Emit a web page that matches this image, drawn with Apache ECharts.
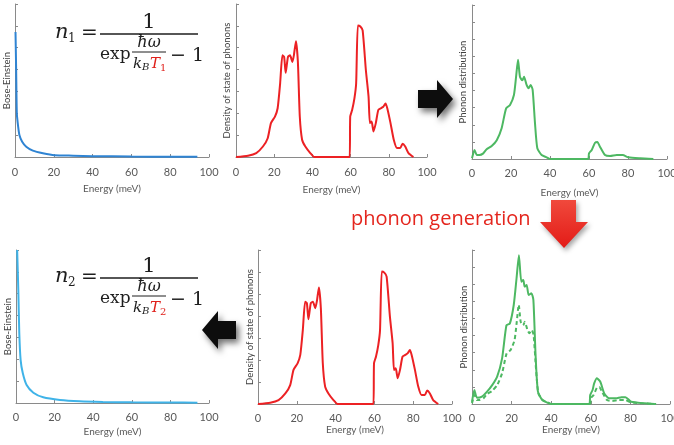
<!DOCTYPE html>
<html>
<head>
<meta charset="utf-8">
<script src="https://cdn.jsdelivr.net/npm/echarts@6/dist/echarts.min.js"></script>
<style>
html, body { margin: 0; padding: 0; background: #fff; }
#chart { width: 674px; height: 445px; }
</style>
</head>
<body>
<div id="chart"></div>
<script>
// energy axis (meV)
var energyMax = 100;
var energyStep = 20;

/* Bose-Einstein, T1 (top) */
var boseE1 = [0.26, 0.6, 0.95, 1.64, 2.3, 3.7, 5.8, 9.2, 14.4, 20.4, 30, 40, 60, 80, 94];
var boseN1 = [5.72, 3.97, 1.99, 1.38, 1.0, 0.7, 0.47, 0.29, 0.17, 0.08, 0.06, 0.04, 0.02, 0.015, 0.01];

/* Bose-Einstein, T2 (bottom) */
var boseE2 = [0.6, 1.2, 1.7, 2.4, 3.5, 5.5, 9, 14.1, 22.8, 33, 45, 60, 80, 94];
var boseN2 = [7.0, 5.16, 3.2, 1.96, 1.37, 0.82, 0.47, 0.26, 0.14, 0.08, 0.05, 0.03, 0.02, 0.015];

/* density of state of phonons */
var dosE = [0, 6.3, 10.6, 14.1, 16.6, 18.3, 20.4, 21.8, 23.1, 24.3, 25.2, 26, 27.2, 28.3, 29.5, 30.3, 31.4, 32.4, 33.4, 34.6, 36.3, 38.9, 41,
  59.5, 59.8, 60.8, 62, 62.9, 63.8, 65.1, 66.3, 68, 69.4, 70.1, 71, 72, 73.2, 74.5, 75.9, 77.1, 78.3, 79.2, 80.9, 82.6, 84.3, 86, 87.2, 88.6, 90.3, 92.9];
var dosVal = [0, 0.06, 0.18, 0.48, 0.86, 1.55, 1.85, 2.23, 3.36, 4.65, 4.58, 3.85, 4.58, 4.65, 4.35, 4.65, 5.3, 4.35, 1.85, 0.79, 0.48, 0.18, 0,
  0, 1.85, 2.15, 2.68, 3.36, 6.02, 5.97, 5.79, 3.97, 2.76, 1.55, 1.62, 1.17, 1.55, 2.15, 2.23, 2.3, 2.45, 2.23, 1.55, 0.79, 0.41, 0.41, 0.61, 0.48, 0.18, 0];

/* phonon distribution at T1 */
var pd1E = [0, 1.3, 2.5, 3.8, 5.8, 7.5, 10.1, 12.7, 15.2, 17.5, 19.5, 21.5, 22.6, 23.6, 24.6, 25.8, 26.7, 28, 29, 30.1, 31.1, 32.3, 33.5, 35.7, 38.3, 40,
  59.5, 60, 61.4, 63.1, 64.3, 65.6, 68.2, 70.8, 74.2, 77.3, 80.2, 86.2, 93];
var pd1Val = [0.04, 0.53, 0.23, 0.23, 0.33, 0.57, 0.76, 1.1, 1.8, 2.96, 3.16, 3.74, 4.8, 5.8, 4.8, 4.6, 4.8, 4.33, 4.13, 4.33, 4.04, 2.1, 0.63, 0.23, 0.1, 0,
  0, 0.33, 0.53, 0.95, 1.0, 0.72, 0.23, 0.17, 0.23, 0.23, 0.1, 0.04, 0];

/* phonon distribution at T2 */
var pd2E = [0, 1.2, 2.5, 5, 7.6, 10.2, 12.7, 15.2, 17.4, 19.1, 21.1, 22.5, 23.7, 24.9, 25.9, 26.6, 27.6, 28.6, 30, 31, 32.1, 33.3, 35.5, 38.9, 40,
  59.2, 59.7, 60.9, 61.7, 63.1, 64.8, 66.8, 69.3, 72.7, 75.5, 77.5, 80.4, 87.1, 92.2];
var pd2Val = [0.13, 0.82, 0.37, 0.43, 0.72, 1.1, 1.6, 2.67, 4.6, 4.7, 5.8, 7.35, 8.7, 7.15, 7.25, 6.86, 6.96, 6.37, 6.47, 6.08, 2.87, 0.72, 0.23, 0.04, 0,
  0, 0.53, 0.82, 1.2, 1.5, 1.3, 0.62, 0.33, 0.33, 0.4, 0.4, 0.13, 0.04, 0];

function pairs(xs, ys) {
  return xs.map(function(x, i) { return [x, ys[i]]; });
}

var axisGrey = '#8a8a8a';
var labelGrey = '#595959';
var uiFont = 'Lato';

// one entry per small plot
var panels = [
  { left: 15, top: 4, width: 194, height: 153, yMax: 7, yName: 'Bose-Einstein', yGap: 3, xGap: 27, margin: 10 },
  { left: 236, top: 4, width: 191, height: 153, yMax: 7, yName: 'Density of state of phonons', yGap: 4, xGap: 28, margin: 10 },
  { left: 472, top: 5, width: 195, height: 154, yMax: 9, yName: 'Phonon distribution', yGap: 4, xGap: 29, margin: 9 },
  { left: 16, top: 250, width: 193, height: 153, yMax: 7, yName: 'Bose-Einstein', yGap: 3, xGap: 24, margin: 9 },
  { left: 258, top: 250, width: 194, height: 154, yMax: 7, yName: 'Density of state of phonons', yGap: 3, xGap: 14, margin: 9 },
  { left: 472, top: 250, width: 198, height: 154, yMax: 9, yName: 'Phonon distribution', yGap: 3, xGap: 14, margin: 9 }
];

var grids = [], xAxes = [], yAxes = [];
panels.forEach(function(p, i) {
  grids.push({ left: p.left, top: p.top, width: p.width, height: p.height, outerBoundsMode: 'none' });
  xAxes.push({
    type: 'value', gridIndex: i, min: 0, max: energyMax, interval: energyStep,
    name: 'Energy (meV)', nameLocation: 'middle', nameGap: p.xGap,
    nameTextStyle: { color: labelGrey, fontSize: 10, fontFamily: uiFont },
    axisLine: { show: true, lineStyle: { color: axisGrey, width: 1 } },
    axisTick: { show: true, inside: true, length: 3, lineStyle: { color: axisGrey } },
    axisLabel: { color: labelGrey, fontSize: 11, fontFamily: uiFont, margin: p.margin },
    splitLine: { show: false }
  });
  yAxes.push({
    type: 'value', gridIndex: i, min: 0, max: p.yMax, interval: 1,
    name: p.yName, nameLocation: 'middle', nameGap: p.yGap,
    nameTextStyle: { color: '#404040', fontSize: 9.5, fontFamily: uiFont },
    axisLine: { show: true, lineStyle: { color: axisGrey, width: 1 } },
    axisTick: { show: true, inside: true, length: 3, lineStyle: { color: axisGrey } },
    axisLabel: { show: false },
    splitLine: { show: false }
  });
});

function curve(idx, data, color, dashed) {
  return {
    type: 'line', xAxisIndex: idx, yAxisIndex: idx, data: data,
    showSymbol: false, smooth: 0.2, animation: false,
    lineStyle: { color: color, width: 2, type: dashed ? [4, 3] : 'solid' }
  };
}

var red = '#ec2124';
var green = '#4db862';

// the Bose-Einstein formula, bar of the main fraction at y0
function formula(y0, sub) {
  var ink = '#1e1e1e', tRed = '#e0201b';
  function t(x, y, text, size, italic, color, align) {
    return {
      type: 'text', x: x, y: y,
      style: {
        text: text, font: (italic ? 'italic ' : '') + size + 'px "DejaVu Serif"',
        fill: color || ink, align: align || 'left', verticalAlign: 'middle'
      }
    };
  }
  return [
    t(55, y0 - 1, 'n', 21, true),
    t(68, y0 + 5, sub, 12, false),
    t(81, y0, '=', 20, false),
    t(149, y0 - 11, '1', 21, false, null, 'center'),
    { type: 'line', shape: { x1: 100, y1: y0, x2: 198, y2: y0 }, style: { stroke: ink, lineWidth: 1.3 } },
    t(100, y0 + 21, 'exp', 17, false),
    t(149, y0 + 9, 'ħω', 16, true, null, 'center'),
    { type: 'line', shape: { x1: 132, y1: y0 + 18, x2: 166, y2: y0 + 18 }, style: { stroke: ink, lineWidth: 1 } },
    t(133, y0 + 30, 'k', 15, true),
    t(142, y0 + 33, 'B', 10, true),
    t(150, y0 + 30, 'T', 15, true, tRed),
    t(160, y0 + 34, sub, 10, false, tRed),
    t(170, y0 + 22, '− 1', 19, false)
  ];
}

var arrowShadow = { shadowBlur: 6, shadowOffsetX: 3, shadowOffsetY: 4, shadowColor: 'rgba(0,0,0,0.55)' };

var graphics = [].concat(formula(34, '1'), formula(278, '2'), [
  {
    type: 'polygon',
    shape: { points: [[418, 90], [437, 90], [437, 80], [453, 99], [437, 118], [437, 108], [418, 108]] },
    style: Object.assign({ fill: '#0d0d0d' }, arrowShadow)
  },
  {
    type: 'polygon',
    shape: { points: [[236, 321], [218, 321], [218, 311], [202, 330], [218, 349], [218, 339], [236, 339]] },
    style: Object.assign({ fill: '#0d0d0d' }, arrowShadow)
  },
  {
    type: 'polygon',
    shape: { points: [[551, 200], [576, 200], [576, 222], [588, 222], [564, 248], [540, 222], [551, 222]] },
    style: Object.assign({
      fill: new echarts.graphic.LinearGradient(0, 0, 0, 1, [
        { offset: 0, color: '#f0493c' }, { offset: 1, color: '#e31b17' }
      ])
    }, { shadowBlur: 5, shadowOffsetX: 2, shadowOffsetY: 3, shadowColor: 'rgba(0,0,0,0.35)' })
  },
  {
    type: 'text', x: 351, y: 219,
    style: { text: 'phonon generation', font: '20px "Open Sans"', fill: '#e4261e', verticalAlign: 'middle' }
  }
]);

var chart = echarts.init(document.getElementById('chart'));
chart.setOption({
  animation: false,
  backgroundColor: '#fff',
  grid: grids,
  xAxis: xAxes,
  yAxis: yAxes,
  series: [
    curve(0, pairs(boseE1, boseN1), '#2f84d3'),
    curve(1, pairs(dosE, dosVal), red),
    curve(2, pairs(pd1E, pd1Val), green),
    curve(3, pairs(boseE2, boseN2), '#3fb3e8'),
    curve(4, pairs(dosE, dosVal), red),
    curve(5, pairs(pd2E, pd2Val), green),
    curve(5, pairs(pd1E, pd1Val), green, true)
  ],
  graphic: graphics
});
</script>
</body>
</html>
